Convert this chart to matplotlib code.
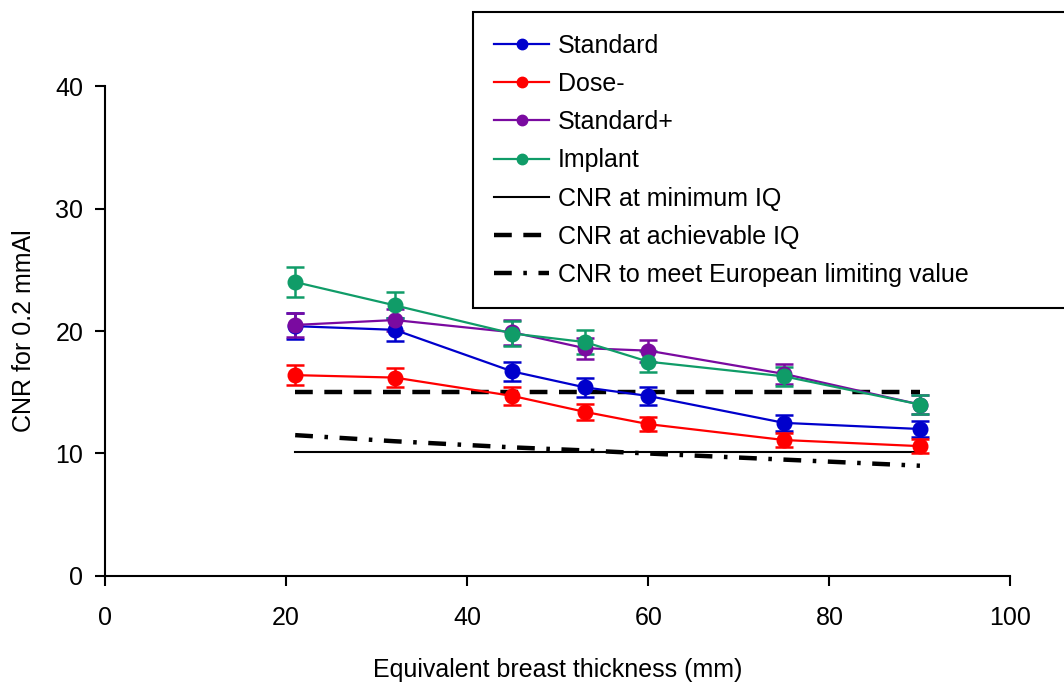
import numpy as np
import matplotlib.pyplot as plt
import matplotlib
from matplotlib.lines import Line2D
matplotlib.rcParams.update({'font.size': 18, 'font.family': ['Liberation Sans', 'DejaVu Sans']})

# breast thickness (mm)
thickness = [21, 32, 45, 53, 60, 75, 90]

# CNR values per protocol
cnr_standard = [20.4, 20.1, 16.7, 15.4, 14.7, 12.5, 12.0]
err_standard = [1.05, 0.95, 0.8, 0.75, 0.7, 0.65, 0.65]
cnr_dose_minus = [16.4, 16.2, 14.7, 13.4, 12.4, 11.1, 10.6]
err_dose_minus = [0.8, 0.8, 0.7, 0.65, 0.6, 0.55, 0.55]
cnr_standard_plus = [20.5, 20.9, 19.9, 18.6, 18.4, 16.5, 14.0]
err_standard_plus = [1.0, 0.9, 1.0, 0.85, 0.9, 0.85, 0.8]
cnr_implant = [24.0, 22.1, 19.8, 19.1, 17.5, 16.3, 14.0]
err_implant = [1.2, 1.05, 1.0, 0.95, 0.85, 0.75, 0.75]

# reference limits
cnr_minimum_iq = [10.15, 10.15, 10.15, 10.15, 10.15, 10.15, 10.15]
cnr_achievable_iq = [15.05, 15.05, 15.05, 15.05, 15.05, 15.05, 15.05]
cnr_european = [11.5, 11.0, 10.5, 10.25, 10.0, 9.5, 9.0]

series_values = [cnr_standard, cnr_dose_minus, cnr_standard_plus, cnr_implant]
series_errors = [err_standard, err_dose_minus, err_standard_plus, err_implant]
series_labels = ['Standard', 'Dose-', 'Standard+', 'Implant']
series_colors = ['#0000CC', '#FF0000', '#7A0AA0', '#109C68']

fig = plt.figure(figsize=(10.64, 6.84), dpi=100)
ax = fig.add_axes([0.0987, 0.158, 0.851, 0.716])

handles = []
for vals, errs, lab, col in zip(series_values, series_errors, series_labels, series_colors):
    ax.errorbar(thickness, vals, yerr=errs, color=col, marker='o', markersize=10.5,
                linewidth=1.6, elinewidth=1.8, capsize=6.5, capthick=1.8, zorder=3)
    handles.append(Line2D([], [], color=col, marker='o', markersize=7.5, linewidth=1.6, label=lab))

h1, = ax.plot(thickness, cnr_minimum_iq, color='k', linewidth=1.5, label='CNR at minimum IQ', zorder=2)
h2, = ax.plot(thickness, cnr_achievable_iq, color='k', linewidth=3.2, dashes=(4, 2.6),
              label='CNR at achievable IQ', zorder=2)
h3, = ax.plot(thickness, cnr_european, color='k', linewidth=3.2, dashes=(4, 2.6, 0.8, 2.6),
              label='CNR to meet European limiting value', zorder=2)
handles += [h1, h2, h3]

ax.set_xlim(0, 100)
ax.set_ylim(0, 40)
ax.set_xticks([0, 20, 40, 60, 80, 100])
ax.set_yticks([0, 10, 20, 30, 40])
ax.spines['top'].set_visible(False)
ax.spines['right'].set_visible(False)
ax.spines['left'].set_linewidth(1.5)
ax.spines['bottom'].set_linewidth(1.5)
ax.tick_params(direction='out', length=7.5, width=1.5)
ax.tick_params(axis='x', pad=14)
ax.tick_params(axis='y', pad=8)
ax.set_xlabel('Equivalent breast thickness (mm)', labelpad=20)
ax.set_ylabel('CNR for 0.2 mmAl', labelpad=14)

leg = fig.legend(handles=handles, loc='upper left', bbox_to_anchor=(0.4445, 0.5, 0.57, 0.482),
                 mode='expand', frameon=True, fancybox=False, edgecolor='k', framealpha=1,
                 handlelength=2.2, handletextpad=0.35, labelspacing=0.57, borderaxespad=0,
                 borderpad=0.85)
leg.get_frame().set_linewidth(1.5)

fig.savefig('out.png', dpi=100)
